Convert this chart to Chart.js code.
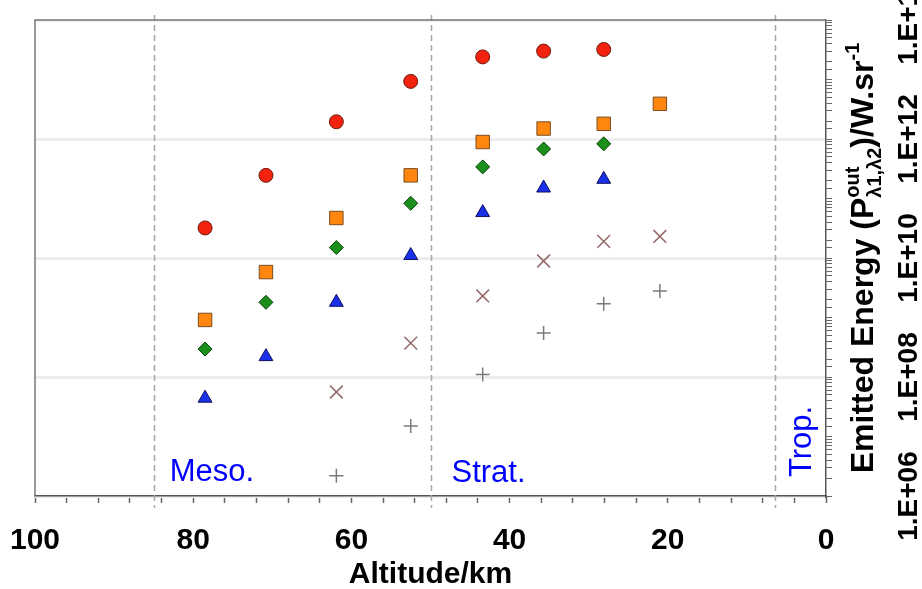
<!DOCTYPE html>
<html>
<head>
<meta charset="utf-8">
<script src="https://cdn.jsdelivr.net/npm/chart.js@4.4.0/dist/chart.umd.min.js"></script>
<style>
  html, body { margin: 0; padding: 0; background: #fff; }
  #wrap { width: 922px; height: 589px; }
</style>
</head>
<body>
<div id="wrap"><canvas id="chart"></canvas></div>
<script>
// --- data ---
const altitudes = [78.5, 70.8, 61.9, 52.5, 43.4, 35.7, 28.1, 21.0];
const redCircles = [3.2e10, 2.45e11, 1.95e12, 9.3e12, 2.4e13, 3.0e13, 3.2e13, null];
const orangeSquares = [9.1e8, 5.8e9, 4.7e10, 2.45e11, 8.9e11, 1.5e12, 1.8e12, 3.9e12];
const greenDiamonds = [2.95e8, 1.8e9, 1.5e10, 8.3e10, 3.4e11, 6.8e11, 8.3e11, null];
const blueTriangles = [4.4e7, 2.2e8, 1.8e9, 1.1e10, 5.8e10, 1.5e11, 2.1e11, null];
const crosses = [null, null, 5.6e7, 3.7e8, 2.3e9, 8.9e9, 1.9e10, 2.3e10];
const pluses = [null, null, 2.2e6, 1.5e7, 1.1e8, 5.5e8, 1.7e9, 2.8e9];

const xTickLabels = [100, 80, 60, 40, 20, 0];
const yTickValues = [1e6, 1e8, 1e10, 1e12, 1e14];
const yTickLabels = ['1.E+06', '1.E+08', '1.E+10', '1.E+12', '1.E+14'];
const layerBounds = [85, 50, 6.5];
const layerNames = ['Meso.', 'Strat.', 'Trop.'];

const FONT = '"Liberation Sans", Arial, sans-serif';
Chart.defaults.font.family = FONT;
Chart.defaults.color = '#000';

const toPoints = vals => altitudes.map((a, i) => ({ x: a, y: vals[i] })).filter(p => p.y != null);
const isLabelled = v => yTickValues.some(t => Math.abs(Math.log10(v) - Math.log10(t)) < 1e-9);

// boundaries, frame, region names, y labels and y title
const decor = {
    id: 'decor',
    beforeDatasetsDraw(chart) {
        const { ctx, chartArea: a, scales: { x } } = chart;
        ctx.save();
        ctx.strokeStyle = '#a8a8a8';
        ctx.lineWidth = 1.5;
        ctx.setLineDash([6, 4]);
        layerBounds.forEach(b => {
            const px = Math.round(x.getPixelForValue(b)) + 0.5;
            ctx.beginPath();
            ctx.moveTo(px, a.top - 5);
            ctx.lineTo(px, a.bottom + 12);
            ctx.stroke();
        });
        ctx.setLineDash([]);

        ctx.fillStyle = '#0000ff';
        ctx.font = '31px ' + FONT;
        ctx.textBaseline = 'alphabetic';
        ctx.fillText(layerNames[0], x.getPixelForValue(layerBounds[0]) + 16, a.bottom - 15);
        ctx.fillText(layerNames[1], x.getPixelForValue(layerBounds[1]) + 21, a.bottom - 14);
        ctx.translate(x.getPixelForValue(layerBounds[2]) + 36, a.bottom - 19);
        ctx.rotate(-Math.PI / 2);
        ctx.fillText(layerNames[2], 0, 0);
        ctx.restore();
    },
    afterDraw(chart) {
        const { ctx, chartArea: a, scales: { y } } = chart;
        ctx.save();
        ctx.strokeStyle = '#7a7a7a';
        ctx.lineWidth = 1.5;
        ctx.beginPath();
        ctx.moveTo(a.left, a.bottom);
        ctx.lineTo(a.left, a.top);
        ctx.lineTo(a.right, a.top);
        ctx.stroke();

        ctx.fillStyle = '#000';
        ctx.font = 'bold 28px ' + FONT;
        ctx.textAlign = 'center';
        yTickValues.forEach((v, i) => {
            ctx.save();
            ctx.translate(917, y.getPixelForValue(v));
            ctx.rotate(-Math.PI / 2);
            ctx.fillText(yTickLabels[i], 0, 0);
            ctx.restore();
        });

        // y title: Emitted Energy (P^out_λ1,λ2)/W.sr^-1
        const big = 'bold 32px ' + FONT, small = 'bold 20px ' + FONT;
        const parts = [
            { t: 'Emitted Energy (P', f: big, dy: 0 },
            { t: 'out', f: small, dy: -14, stack: true },
            { t: 'λ1,λ2', f: small, dy: 8 },
            { t: ')/W.sr', f: big, dy: 0 },
            { t: '-1', f: small, dy: -14 }
        ];
        let total = 0, widths = [];
        parts.forEach(p => { ctx.font = p.f; widths.push(ctx.measureText(p.t).width); });
        for (let i = 0; i < parts.length; i++) {
            if (parts[i].stack) { total += Math.max(widths[i], widths[i + 1]); i++; }
            else total += widths[i];
        }
        ctx.textAlign = 'left';
        ctx.translate(873, (a.top + a.bottom) / 2);
        ctx.rotate(-Math.PI / 2);
        let cx = -total / 2;
        for (let i = 0; i < parts.length; i++) {
            const p = parts[i];
            ctx.font = p.f;
            ctx.fillText(p.t, cx, p.dy);
            if (p.stack) {
                const q = parts[i + 1];
                ctx.font = q.f;
                ctx.fillText(q.t, cx, q.dy);
                cx += Math.max(widths[i], widths[i + 1]);
                i++;
            } else cx += widths[i];
        }
        ctx.restore();
    }
};

new Chart(document.getElementById('chart'), {
    type: 'scatter',
    data: {
        datasets: [
            { data: toPoints(redCircles), pointStyle: 'circle', pointRadius: 7, backgroundColor: '#f3220f', borderColor: '#6a1a10', borderWidth: 1 },
            { data: toPoints(orangeSquares), pointStyle: 'rect', pointRadius: 9.5, backgroundColor: '#ff870f', borderColor: '#7a4a20', borderWidth: 1 },
            { data: toPoints(greenDiamonds), pointStyle: 'rectRot', pointRadius: 7, backgroundColor: '#1b8f1b', borderColor: '#0a400a', borderWidth: 1 },
            { data: toPoints(blueTriangles), pointStyle: 'triangle', pointRadius: 8, backgroundColor: '#1a30e8', borderColor: '#101060', borderWidth: 1 },
            { data: toPoints(crosses), pointStyle: 'crossRot', pointRadius: 9, borderColor: '#946868', borderWidth: 1.5 },
            { data: toPoints(pluses), pointStyle: 'cross', pointRadius: 7, borderColor: '#7a7a7a', borderWidth: 1.5 }
        ]
    },
    options: {
        responsive: true,
        maintainAspectRatio: false,
        animation: false,
        layout: { padding: { left: 35, top: 20, right: 0, bottom: 0 } },
        plugins: { legend: { display: false }, tooltip: { enabled: false } },
        scales: {
            x: {
                type: 'linear', reverse: true, min: 0, max: 100, position: 'bottom',
                afterBuildTicks: s => { s.ticks = Array.from({ length: 26 }, (_, i) => ({ value: i * 4 })); },
                afterFit: s => { s.height = 93; },
                ticks: {
                    autoSkip: false, maxRotation: 0, padding: 20, color: '#000',
                    font: { size: 30, weight: 'bold' },
                    callback: v => xTickLabels.includes(v) ? String(v) : ''
                },
                grid: { drawOnChartArea: false, tickLength: 7, tickColor: '#666', tickWidth: 1.5 },
                border: { color: '#555', width: 1.5 },
                title: { display: true, text: 'Altitude/km', color: '#000', font: { size: 30, weight: 'bold' }, padding: { top: 0, bottom: -4 } }
            },
            y: {
                type: 'logarithmic', position: 'right', min: 1e6, max: 1e14,
                afterFit: s => { s.width = 96; },
                ticks: { display: false, autoSkip: false },
                grid: {
                    color: c => (c.tick && isLabelled(c.tick.value)) ? '#ededed' : 'rgba(0,0,0,0)',
                    lineWidth: c => (c.tick && isLabelled(c.tick.value)) ? 3 : 1,
                    tickLength: 6, tickColor: '#666', tickWidth: 1
                },
                border: { color: '#555', width: 1.5 }
            }
        }
    },
    plugins: [decor]
});
</script>
</body>
</html>
